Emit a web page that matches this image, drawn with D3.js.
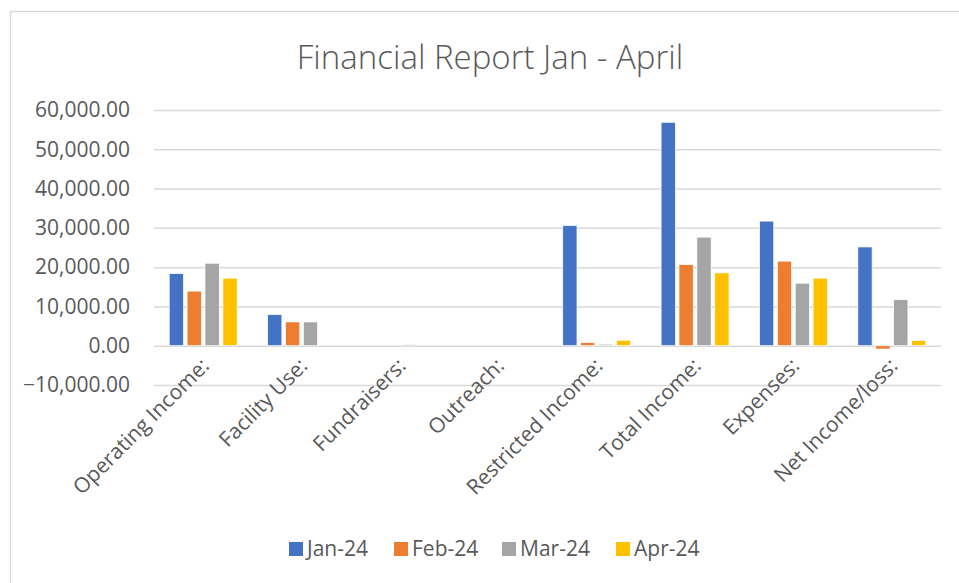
<!DOCTYPE html>
<html>
<head>
<meta charset="utf-8">
<script src="https://cdn.jsdelivr.net/npm/d3@7"></script>
<style>
  html, body { margin: 0; padding: 0; background: #fff; }
  svg { display: block; font-family: "Open Sans", sans-serif; }
</style>
</head>
<body>
<script>
// chart data
const categories = ["Operating Income:", "Facility Use:", "Fundraisers:", "Outreach:",
  "Restricted Income:", "Total Income:", "Expenses:", "Net Income/loss:"]
const seriesNames = ["Jan-24", "Feb-24", "Mar-24", "Apr-24"]
const jan24 = [18400, 7950, 0, 0, 30620, 56870, 31720, 25150]
const feb24 = [13900, 6060, 0, 0, 800, 20680, 21530, -850]
const mar24 = [21000, 6060, 300, 0, 380, 27640, 15920, 11720]
const apr24 = [17200, 0, 0, 0, 1400, 18550, 17200, 1350]
const yTicks = [-10000, 0, 10000, 20000, 30000, 40000, 50000, 60000]
const colors = ["#4472C4", "#ED7D31", "#A5A5A5", "#FFC000"]

const values = [jan24, feb24, mar24, apr24]
const rows = categories.map((c, i) => ({ cat: c, vals: seriesNames.map((s, j) => ({ s: s, v: values[j][i] })) }))

const width = 959
const height = 583
const textColor = "#595959"
const gridColor = "#d9d9d9"

const svg = d3.select("body").append("svg")
    .attr("width", width)
    .attr("height", height)

// chart area frame (runs off the right and bottom of the picture)
svg.append("rect")
    .attr("x", 10.5).attr("y", 11.5)
    .attr("width", 1000).attr("height", 700)
    .attr("fill", "#fff")
    .attr("stroke", gridColor)
    .attr("stroke-width", 1.5)

svg.append("text")
    .attr("x", 490).attr("y", 69)
    .attr("text-anchor", "middle")
    .attr("fill", textColor)
    .style("font-size", "33px")
    .style("font-weight", 300)
    .text("Financial Report Jan - April")

const plotLeft = 154, plotRight = 941

const y = d3.scaleLinear().domain([-10000, 60000]).range([385, 110])

const x = d3.scaleBand().domain(categories).range([plotLeft, plotRight])

const x1 = d3.scaleBand().domain(seriesNames)
    .range([0, x.bandwidth()])
    .paddingInner(0.2)
    .paddingOuter(0.85)

const color = d3.scaleOrdinal().domain(seriesNames).range(colors)

// gridlines
const grid = svg.append("g")
    .attr("transform", `translate(${plotLeft},0)`)
    .call(d3.axisLeft(y).tickValues(yTicks).tickSize(-(plotRight - plotLeft)).tickFormat(""))
grid.select(".domain").remove()
grid.selectAll("line").attr("stroke", gridColor).attr("stroke-width", 1.5)

// y tick labels
const yAxis = svg.append("g")
    .attr("transform", "translate(130,0)")
    .call(d3.axisLeft(y).tickValues(yTicks).tickSize(0).tickPadding(0).tickFormat(d3.format(",.2f")))
yAxis.select(".domain").remove()
yAxis.selectAll("text")
    .attr("fill", textColor)
    .style("font-size", "21px")
    .style("font-family", "Open Sans, sans-serif")

// bars
svg.append("g")
    .selectAll("g")
    .data(rows)
    .join("g")
    .attr("transform", d => `translate(${x(d.cat)},0)`)
    .selectAll("rect")
    .data(d => d.vals)
    .join("rect")
    .attr("x", d => x1(d.s))
    .attr("width", x1.bandwidth())
    .attr("y", d => y(Math.max(0, d.v)))
    .attr("height", d => Math.abs(y(d.v) - y(0)))
    .attr("fill", d => color(d.s))
    .attr("stroke", "#fff")
    .attr("stroke-width", 0.75)

// category labels, rotated
svg.append("g")
    .selectAll("text")
    .data(categories)
    .join("text")
    .attr("text-anchor", "end")
    .attr("dy", "0.35em")
    .attr("transform", d => `translate(${x(d) + x.bandwidth() / 2 + 2},${362}) rotate(-45)`)
    .attr("fill", textColor)
    .style("font-size", "21px")
    .text(d => d)

// legend
const legendX = [289, 394, 502, 616]
const legend = svg.append("g")
    .selectAll("g")
    .data(seriesNames)
    .join("g")
    .attr("transform", (d, i) => `translate(${legendX[i]},542)`)
legend.append("rect")
    .attr("width", 14).attr("height", 14)
    .attr("fill", d => color(d))
legend.append("text")
    .attr("x", 18).attr("y", 7)
    .attr("dy", "0.35em")
    .attr("fill", textColor)
    .style("font-size", "21px")
    .text(d => d)
</script>
</body>
</html>
